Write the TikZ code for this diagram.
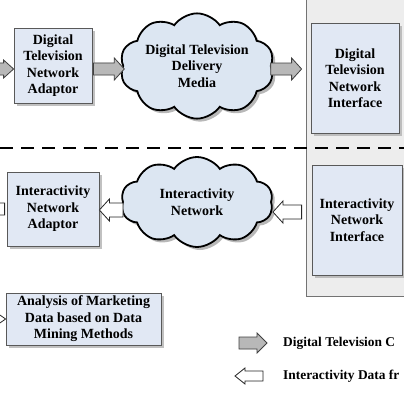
\documentclass[tikz,border=0pt]{standalone}
\usepackage{fontspec}
\setmainfont{Liberation Serif}
\usetikzlibrary{shapes.symbols,shadows,calc}
\definecolor{boxfill}{HTML}{E1E8F4}
\definecolor{cloudfill}{HTML}{DCE6F2}
\definecolor{panelfill}{HTML}{EDEDED}
\definecolor{arrowgrey}{HTML}{B8B8B8}
\tikzset{
  txt/.style={font=\fontsize{14}{16.5}\selectfont\bfseries, align=center},
  box/.style={txt, draw=black!65, line width=0.8pt, fill=boxfill, inner sep=0pt,
    drop shadow={shadow xshift=3pt, shadow yshift=-3pt, fill=black!30, opacity=0.8}},
  cloudnode/.style={txt, cloud, cloud puffs=10, cloud puff arc=110, aspect=1.7,
    draw=black, line width=1.8pt, fill=cloudfill, inner sep=0pt,
    drop shadow={shadow xshift=3pt, shadow yshift=-3pt, fill=black!35, opacity=0.8}},
  greyarrow/.style={draw=black!75, line width=0.8pt, fill=arrowgrey},
  hollowarrow/.style={draw=black!85, line width=0.8pt, fill=white},
  arrowshadow/.style={fill=black!25, draw=none, xshift=2pt, yshift=-2pt},
  legendtxt/.style={font=\fontsize{13.4}{16.5}\selectfont\bfseries, anchor=west, inner sep=0pt}
}
% right-pointing block arrow: #1 style, #2 from, #3 tip, #4 half shaft, #5 half head
\newcommand\rarr[5]{%
  \foreach \sty in {arrowshadow,#1}{%
  \path[\sty] let \p1=(#2), \p2=(#3) in
    (\x1,\y1+#4) -- (\x2-10pt,\y1+#4) -- (\x2-10pt,\y1+#5) -- (\x2,\y1)
    -- (\x2-10pt,\y1-#5) -- (\x2-10pt,\y1-#4) -- (\x1,\y1-#4) -- cycle;}}
\newcommand\larr[5]{%
  \foreach \sty in {arrowshadow,#1}{%
  \path[\sty] let \p1=(#2), \p2=(#3) in
    (\x1,\y1+#4) -- (\x2+10pt,\y1+#4) -- (\x2+10pt,\y1+#5) -- (\x2,\y1)
    -- (\x2+10pt,\y1-#5) -- (\x2+10pt,\y1-#4) -- (\x1,\y1-#4) -- cycle;}}
\begin{document}
\begin{tikzpicture}[x=1pt,y=-1pt]
\useasboundingbox (0,0) rectangle (404,404);
% grey panel
\fill[panelfill] (306,0) rectangle (404,296);
\draw[black!55, line width=0.8pt] (306,0) -- (306,296) -- (404,296);
% dashed separator
\draw[line width=1.6pt, dash pattern=on 13pt off 8pt] (0,148) -- (404,148);

% nodes
\node[box, minimum width=78pt, minimum height=75pt] (dta) at (53,65.5) {Digital\\Television\\Network\\Adaptor};
\node[cloudnode, minimum width=154pt, minimum height=92pt] (cl1) at (197,66) {Digital Television\\Delivery\\Media};
\node[box, minimum width=88pt, minimum height=110pt] (dti) at (355,78) {Digital\\Television\\Network\\Interface};
\node[box, minimum width=92pt, minimum height=74pt] (ina) at (53,209) {Interactivity\\Network\\Adaptor};
\node[cloudnode, minimum width=152pt, minimum height=90pt] (cl2) at (197,202) {Interactivity\\Network};
\node[box, minimum width=90pt, minimum height=110pt] (ini) at (357,220) {Interactivity\\Network\\Interface};
\node[box, minimum width=155pt, minimum height=52pt] (ana) at (83.5,319) {Analysis of Marketing\\Data based on Data\\Mining Methods};

% free ends
\coordinate (inL) at (-20,69);
\coordinate (outL) at (-40,208.5);
\coordinate (anaL) at (-30,319);

% connectors
\rarr{greyarrow}{inL}{dta.west}{6pt}{9pt}
\rarr{greyarrow}{$(dta.east)+(1,3.5)$}{$(cl1.west)+(2,0)$}{6pt}{11pt}
\rarr{greyarrow}{$(cl1.east)+(-1,3)$}{$(dti.west)+(-9,0)$}{6pt}{11pt}
\larr{hollowarrow}{$(ini.west)+(-10,-8)$}{$(cl2.east)+(1,0)$}{7pt}{11pt}
\larr{hollowarrow}{$(cl2.west)+(1,8)$}{ina.east}{7pt}{11pt}
\larr{hollowarrow}{$(ina.west)+(-2,0)$}{outL}{6pt}{10pt}
\rarr{hollowarrow}{anaL}{ana.west}{5pt}{7pt}

% legend
\coordinate (lg1a) at (239,343);
\coordinate (lg1b) at (267,343);
\coordinate (lg2a) at (263,376);
\coordinate (lg2b) at (235,376);
\rarr{greyarrow}{lg1a}{lg1b}{6pt}{10pt}
\larr{hollowarrow}{lg2a}{lg2b}{5pt}{8pt}
\node[legendtxt] (lt1) at (283,343) {Digital Television C};
\node[legendtxt] (lt2) at (283,376) {Interactivity Data fr};
\end{tikzpicture}
\end{document}
